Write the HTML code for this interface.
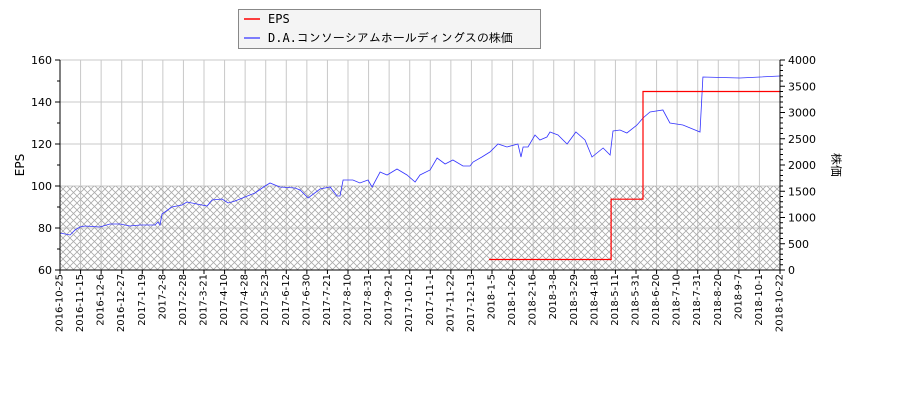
<!DOCTYPE html>
<html><head><meta charset="utf-8"><style>
body{margin:0;background:#fff;}
svg{display:block;font-family:"DejaVu Sans","Liberation Sans","IPAGothic",sans-serif;}
.lg{font-family:"DejaVu Sans Mono","IPAGothic",monospace;font-size:12px;}
</style></head><body>
<svg id="c" width="900" height="400" viewBox="0 0 900 400">
<defs>
<pattern id="hatch" width="7" height="7" patternUnits="userSpaceOnUse">
<path d="M0,0L7,7M7,0L0,7" stroke="#aaa" stroke-width="0.8"/>
</pattern>
</defs>
<g id="grid"></g>
<rect id="hatchRect" fill="url(#hatch)"/>
<g id="series"></g>
<g id="axes"></g>
<rect x="238.5" y="9.5" width="302" height="39" fill="#f4f4f4" stroke="#888"/>
<line x1="244" y1="19" x2="260" y2="19" stroke="red" stroke-width="1.5"/>
<text class="lg" x="268" y="23">EPS</text>
<line x1="244" y1="38" x2="260" y2="38" stroke="#55f" stroke-width="1.5"/>
<text class="lg" x="268" y="42">D.A.コンソーシアムホールディングスの株価</text>
<text x="24" y="165" font-size="12" text-anchor="middle" transform="rotate(-90 24 165)">EPS</text>
<text x="832" y="165" font-size="12" text-anchor="middle" font-family="IPAGothic,sans-serif" transform="rotate(90 832 165)">株価</text>
</svg>
<script>
const dateLabels=["2016-10-25","2016-11-15","2016-12-6","2016-12-27","2017-1-19","2017-2-8","2017-2-28","2017-3-21","2017-4-10","2017-4-28","2017-5-23","2017-6-12","2017-6-30","2017-7-21","2017-8-10","2017-8-31","2017-9-21","2017-10-12","2017-11-1","2017-11-22","2017-12-13","2018-1-5","2018-1-26","2018-2-16","2018-3-8","2018-3-29","2018-4-18","2018-5-11","2018-5-31","2018-6-20","2018-7-10","2018-7-31","2018-8-20","2018-9-7","2018-10-1","2018-10-22"];
const leftTicks=[60,80,100,120,140,160];
const rightTicks=[0,500,1000,1500,2000,2500,3000,3500,4000];
// price positions in date-label index units
const priceX=[0,0.49,0.73,0.97,1.22,1.94,2.43,2.92,3.40,3.89,4.62,4.76,4.86,4.96,5.44,5.93,6.17,6.66,7.15,7.39,7.88,8.17,8.51,8.99,9.48,9.97,10.21,10.69,11.42,
11.67,12.06,12.64,13.13,13.47,13.61,13.76,14.24,14.58,14.97,15.17,15.56,15.90,16.38,16.87,17.26,17.50,17.99,18.33,18.72,19.10,19.59,19.93,20.08,20.51,20.90,21.29,21.73,22.26,22.41,22.51,22.75,23.09,23.33,23.67,23.82,24.21,24.65,25.08,25.52,25.86,26.40,26.74,26.88,27.22,
27.56,28.05,28.34,28.68,29.31,29.65,30.28,31.11,31.25,33.05,35];
const priceVals=[705,667,762,819,838,819,876,876,838,857,857,914,857,1067,1200,1238,1295,1257,1219,1333,1352,1276,1314,1390,1467,1600,1657,1581,1562,
1524,1371,1543,1581,1410,1410,1714,1714,1657,1714,1581,1867,1810,1924,1810,1676,1810,1905,2133,2019,2095,1981,1981,2057,2152,2248,2400,2343,2400,2152,2343,2343,2571,2476,2533,2629,2571,2400,2629,2476,2152,2324,2190,2648,2667,
2610,2762,2895,3010,3048,2800,2762,2629,3676,3657,3695];
const epsStart=[20.86,26.79,28.34];
const epsVals=[65,93.7,145];
const epsEnd=35;
const hatchTop=1600;

const L=60,R=780,T=60,B=270;
const X=i=>L+i*(R-L)/(dateLabels.length-1);
const YL=v=>B-(v-60)/100*(B-T);
const YR=v=>B-v/4000*(B-T);
const NS="http://www.w3.org/2000/svg";
function mk(p,tag,at){const e=document.createElementNS(NS,tag);for(const k in at)e.setAttribute(k,at[k]);p.appendChild(e);return e;}
const grid=document.getElementById('grid'),axes=document.getElementById('axes'),ser=document.getElementById('series');
const hr=document.getElementById('hatchRect');
hr.setAttribute('x',L);hr.setAttribute('y',YR(hatchTop));hr.setAttribute('width',R-L);hr.setAttribute('height',B-YR(hatchTop));
dateLabels.forEach((d,i)=>{
 const x=X(i);
 const g=mk(grid,'line',{x1:x,x2:x,y1:T,y2:B,stroke:'#c8c8c8','stroke-width':1});
 
 
 mk(axes,'line',{x1:x,x2:x,y1:B,y2:B+4,stroke:'#000'});
 const t=mk(axes,'text',{x:0,y:0,'font-size':10,'text-anchor':'end','dominant-baseline':'central',transform:`translate(${x},${B+4}) rotate(-90)`});
 t.textContent=d;
 
 
});
leftTicks.forEach(v=>{
 const y=YL(v);
 const g=mk(grid,'line',{x1:L,x2:R,y1:y,y2:y,stroke:'#c8c8c8'});
 
 
 mk(axes,'line',{x1:L-5,x2:L,y1:y,y2:y,stroke:'#000'});
 const t=mk(axes,'text',{x:L-8,y:y+4,'font-size':11,'text-anchor':'end'});
 t.textContent=v;
 
 
});
for(let v=70;v<160;v+=20){const y=YL(v);mk(axes,'line',{x1:L-3,x2:L,y1:y,y2:y,stroke:'#000'});}
rightTicks.forEach(v=>{
 const y=YR(v);
 mk(axes,'line',{x1:R,x2:R+5,y1:y,y2:y,stroke:'#000'});
 const t=mk(axes,'text',{x:R+8,y:y+4,'font-size':11});
 t.textContent=v;
 
 
});
for(let v=100;v<4000;v+=100){if(v%500){const y=YR(v);mk(axes,'line',{x1:R,x2:R+3,y1:y,y2:y,stroke:'#000'});}}
mk(axes,'line',{x1:L,x2:L,y1:T,y2:B,stroke:'#000'});
mk(axes,'line',{x1:R,x2:R,y1:T,y2:B,stroke:'#000'});
mk(axes,'line',{x1:L,x2:R,y1:B,y2:B,stroke:'#000'});
const pp=priceX.map((x,i)=>`${X(x).toFixed(1)},${YR(priceVals[i]).toFixed(1)}`).join(' ');
const pl=mk(ser,'polyline',{points:pp,fill:'none',stroke:'#33f','stroke-width':0.8});


let ep=[];
epsVals.forEach((v,i)=>{const xe=i<epsVals.length-1?epsStart[i+1]:epsEnd;ep.push(`${X(epsStart[i]).toFixed(1)},${YL(v).toFixed(1)}`);ep.push(`${X(xe).toFixed(1)},${YL(v).toFixed(1)}`);});
const el=mk(ser,'polyline',{points:ep.join(' '),fill:'none',stroke:'red','stroke-width':1.2});


</script>
</body></html>
